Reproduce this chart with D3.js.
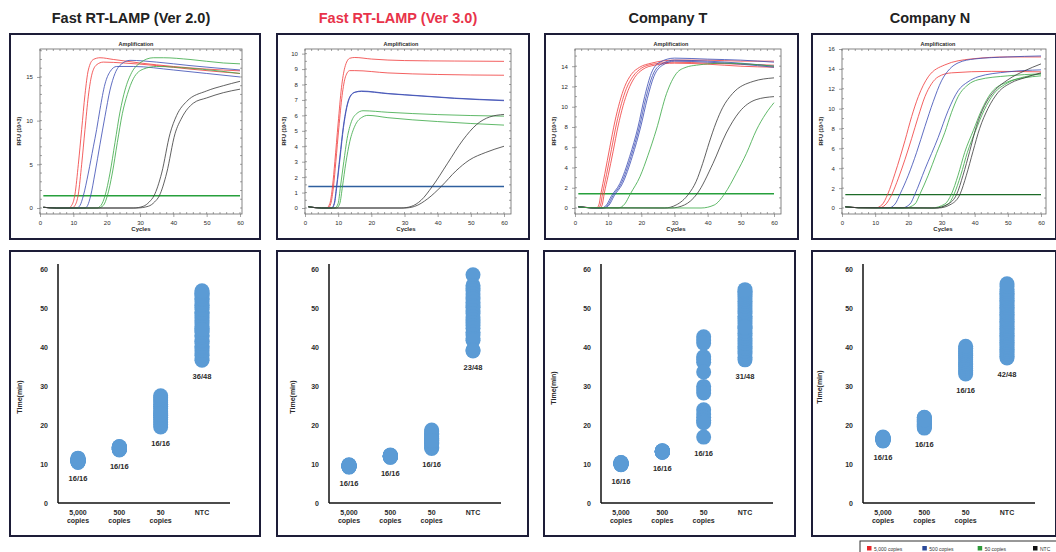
<!DOCTYPE html>
<html><head><meta charset="utf-8">
<script src="https://cdn.jsdelivr.net/npm/d3@7"></script>
<style>body{margin:0;background:#fff} svg{display:block;font-family:"Liberation Sans",Arial,sans-serif}</style>
</head><body><svg id="c" width="1056" height="552"></svg>
<script>
// ---------- DATA ----------
const panelTitles = ["Fast RT-LAMP (Ver 2.0)", "Fast RT-LAMP (Ver 3.0)", "Company T", "Company N"];
const cycleTicks = [0, 10, 20, 30, 40, 50, 60];
const rfuTicksV2 = [0, 5, 10, 15];
const rfuTicksV3 = [0, 1, 2, 3, 4, 5, 6, 7, 8, 9, 10];
const rfuTicksT = [0, 2, 4, 6, 8, 10, 12, 14];
const rfuTicksN = [0, 2, 4, 6, 8, 10, 12, 14, 16];
const rfuMax = [18.2, 10.3, 15.7, 16.0];
const thresholds = [1.4, 1.39, 1.4, 1.35];
const seriesNames = ["5,000 copies", "500 copies", "50 copies", "NTC"];

// amplification curves: [cycle, RFU(10^3)]
const ampV2 = [
  {s:0, p:[[1,0.08],[5,0],[8.5,0],[9.5,0.3],[10.5,1.6],[11.5,5],[12.5,9],[13.5,13],[14.5,15.8],[16,17],[18,17.2],[22,17],[30,16.6],[40,16.2],[50,15.9],[60,15.7]]},
  {s:0, p:[[1,0.08],[5,0],[9.5,0],[10.5,0.3],[11.5,1.6],[12.5,5],[13.5,9],[14.5,12.8],[15.5,15.2],[17,16.4],[19,16.7],[25,16.6],[35,16.3],[45,15.9],[60,15.4]]},
  {s:1, p:[[1,0.08],[5,0],[11,0],[12,0.3],[13,1.4],[14.5,4],[16,7],[17,9],[18,11.3],[19.5,14.2],[21,15.6],[23,16.2],[28,16.2],[40,15.8],[50,15.4],[60,15.0]]},
  {s:1, p:[[1,0.08],[5,0],[13.5,0],[14.3,0.3],[15.2,1.4],[16.5,4],[18,7.3],[19.5,10.5],[21,13.5],[22.5,15.4],[24.5,16.5],[27,16.9],[35,16.7],[45,16.3],[60,15.8]]},
  {s:2, p:[[1,0.08],[5,0],[17,0],[18.3,0.3],[19.5,1.4],[21,4],[22.5,7.5],[24,11],[25.5,13.5],[27.5,15.5],[30,16.6],[34,17.2],[37,17.2],[45,17],[55,16.6],[60,16.5]]},
  {s:2, p:[[1,0.08],[5,0],[17.5,0],[19,0.3],[20.2,1.4],[21.7,4],[23.2,7.5],[24.7,10.8],[26.2,13],[28,14.8],[31,15.9],[35,16.2],[45,16],[60,15.4]]},
  {s:3, p:[[1,0.08],[5,0],[28,0],[31,0.2],[32.8,0.7],[34.2,1.4],[36.5,4],[39,8.5],[41,10.6],[44,12.2],[50,13.4],[55,14.0],[60,14.5]]},
  {s:3, p:[[1,0.08],[5,0],[29,0],[32.5,0.2],[34.4,0.7],[35.8,1.4],[38,4],[40.5,8.5],[42.5,10.3],[46,12],[50,12.6],[55,13.2],[60,13.6]]}
];
const ampV3 = [
  {s:0, p:[[1,0.08],[5,0],[6.5,0],[7.5,0.3],[8.3,1.4],[9,3],[10,5.5],[11,7.8],[12,9.1],[13.5,9.7],[15,9.75],[20,9.65],[30,9.55],[45,9.52],[60,9.5]]},
  {s:0, p:[[1,0.08],[5,0],[7,0],[7.8,0.3],[8.6,1.4],[9.3,3],[10.2,5.2],[11.2,7.3],[12.2,8.5],[13.5,8.9],[15,8.9],[25,8.75],[40,8.65],[60,8.6]]},
  {s:1, p:[[1,0.08],[5,0],[8,0],[8.8,0.3],[9.5,1.4],[10.5,3.3],[11.5,5.2],[12.5,6.5],[13.5,7.2],[15,7.5],[17,7.55],[25,7.4],[35,7.25],[45,7.1],[60,6.95]]},
  {s:1, p:[[1,0.08],[5,0],[8.1,0],[8.9,0.3],[9.6,1.4],[10.6,3.3],[11.6,5.2],[12.6,6.5],[13.6,7.2],[15.1,7.5],[17,7.58],[25,7.42],[35,7.27],[45,7.12],[60,6.98]]},
  {s:2, p:[[1,0.08],[5,0],[9,0],[10,0.3],[10.7,1.4],[11.7,3],[12.7,4.5],[14,5.6],[15.5,6.1],[17.5,6.3],[25,6.2],[40,6.05],[60,5.95]]},
  {s:2, p:[[1,0.08],[5,0],[9.5,0],[10.5,0.3],[11.3,1.4],[12.3,2.9],[13.5,4.3],[15,5.3],[17,5.85],[19,6.0],[25,5.85],[40,5.6],[60,5.37]]},
  {s:3, p:[[1,0.08],[5,0],[29,0],[32,0.1],[35,0.5],[38.4,1.4],[43,2.9],[47.6,4.4],[51.7,5.4],[55.7,5.9],[60,6.06]]},
  {s:3, p:[[1,0.08],[5,0],[30,0],[33,0.1],[37,0.6],[41.1,1.4],[45.5,2.4],[49.5,3.1],[54.5,3.6],[60,4.0]]}
];
const ampT = [
  {s:0, p:[[1,0.12],[5,0.02],[6.5,0],[7.2,0.3],[7.8,1.4],[9,3.4],[10.5,6],[12,8.5],[13.5,10.5],[15,12],[17,13.2],[19.5,13.9],[23,14.3],[30,14.6],[40,14.6],[50,14.5],[60,14.5]]},
  {s:0, p:[[1,0.12],[5,0.02],[7,0],[7.7,0.3],[8.3,1.4],[9.5,3.3],[11,5.8],[12.5,8.3],[14,10.3],[15.5,11.8],[17.5,13],[20,13.8],[23.5,14.2],[30,14.4],[40,14.3],[50,14.2],[60,14.1]]},
  {s:0, p:[[1,0.12],[5,0.02],[7.5,0],[8.2,0.3],[8.8,1.4],[10,3.2],[11.5,5.6],[13,8.1],[14.5,10.1],[16,11.6],[18,12.9],[20.5,13.7],[24,14.1],[30,14.3],[40,14.2],[50,14.0],[60,13.9]]},
  {s:1, p:[[1,0.12],[5,0.02],[8,0],[9.5,0.3],[11,1.2],[13.5,2.4],[16.5,5.1],[19,8],[21,11],[23,13.3],[25.6,14.4],[30,14.8],[40,14.7],[50,14.6],[60,14.4]]},
  {s:1, p:[[1,0.12],[5,0.02],[8.4,0],[9.9,0.3],[11.4,1.2],[13.9,2.4],[16.9,5.1],[19.4,8],[21.4,10.9],[23.4,13.1],[26,14.2],[30,14.6],[40,14.5],[50,14.3],[60,14.0]]},
  {s:1, p:[[1,0.12],[5,0.02],[8.8,0],[10.3,0.3],[11.8,1.2],[14.3,2.4],[17.3,5.1],[19.8,8],[21.8,10.8],[23.8,13],[26.4,14.1],[30,14.5],[40,14.4],[50,14.2],[60,13.9]]},
  {s:2, p:[[1,0.12],[5,0.02],[13,0],[15,0.4],[16.7,1.4],[19.6,3.1],[22,5.2],[24.5,7.7],[27.6,11.3],[30.6,13.3],[33.5,13.9],[36.6,14.1],[45,14.3],[60,14.0]]},
  {s:3, p:[[1,0.12],[5,0.02],[27,0],[30.5,0.3],[34.3,1.4],[36.5,2.6],[38.5,4.4],[40.5,6.5],[42.5,8.4],[44.5,9.9],[47.5,11.3],[53.7,12.5],[60,12.85]]},
  {s:3, p:[[1,0.12],[5,0.02],[29,0],[33,0.3],[36.8,1.4],[41.6,4.4],[45.6,7.4],[49.6,9.5],[54.6,10.7],[60,11.0]]},
  {s:2, p:[[1,0.12],[5,0.02],[38,0],[42,0.3],[45.1,1.4],[48.6,3.4],[51.7,5.4],[54.7,7.7],[57.5,9.3],[60,10.4]]}
];
const ampN = [
  {s:0, p:[[1,0.12],[5,0.03],[10,0],[12,0.3],[13.8,1.4],[16,3.5],[19,6.8],[21,9.2],[23,11.2],[26,13.2],[31,14.4],[39,15.0],[50,15.2],[60,15.2]]},
  {s:0, p:[[1,0.12],[5,0.03],[11,0],[13,0.3],[15,1.35],[17,3.0],[19,4.9],[21,7.0],[23,9.2],[25,11.2],[27,12.5],[29,13.2],[33,13.6],[45,13.75],[60,13.7]]},
  {s:1, p:[[1,0.12],[5,0.03],[14,0],[16,0.4],[17.5,1.4],[20,3.3],[22.5,5.6],[25,8.2],[27.5,10.7],[30,12.8],[32.5,14],[35,14.6],[40,15],[50,15.2],[60,15.3]]},
  {s:1, p:[[1,0.12],[5,0.03],[18,0],[20.5,0.4],[22,1.4],[25,3.9],[29,7.1],[32,9.8],[35,11.8],[38,12.7],[41,13.2],[50,13.7],[60,13.9]]},
  {s:2, p:[[1,0.12],[5,0.03],[19,0],[22,0.4],[23.5,1.4],[26,3.3],[28.5,5.5],[31,7.6],[33,9.6],[35,11.2],[38,12.4],[41,12.9],[50,13.3],[60,13.5]]},
  {s:2, p:[[1,0.12],[5,0.03],[27,0],[31,0.4],[33,1.4],[35,3.3],[37,5.6],[39.6,7.8],[42,9.8],[45,11.6],[50,12.7],[55,13.1],[60,13.3]]},
  {s:2, p:[[1,0.12],[5,0.03],[28,0],[32,0.4],[33.8,1.4],[35.8,3.3],[37.8,5.6],[40.3,7.8],[42.8,9.8],[45.8,11.5],[50,12.6],[55,13.2],[60,13.5]]},
  {s:3, p:[[1,0.12],[5,0.03],[28,0],[32,0.4],[34.6,1.4],[36.5,3.3],[38.5,5.7],[40.5,8.2],[43,10.3],[46,11.8],[50,12.9],[55,13.8],[60,14.5]]},
  {s:3, p:[[1,0.12],[5,0.03],[29,0],[33,0.4],[35.6,1.4],[37.5,3.3],[39.5,5.7],[41.5,8],[44,10],[47,11.6],[51,12.6],[55,13.1],[60,13.6]]}
];

// time-to-positive dot plots (minutes)
const categories = ["5,000|copies", "500|copies", "50|copies", "NTC"];
const timeTicks = [0, 10, 20, 30, 40, 50, 60];
const v2_5000 = [10.4,10.5,10.6,10.7,10.8,10.9,11.0,11.0,11.1,11.2,11.3,11.4,11.5,10.6,10.9,11.2];
const v2_500  = [13.6,13.7,13.8,13.9,14.0,14.1,14.2,14.3,14.4,13.8,14.0,14.2,13.9,14.1,14.3,14.5];
const v2_50   = [19.5,20.1,20.8,21.4,22.0,22.5,23.1,23.6,24.2,24.8,25.3,25.9,26.4,27.0,27.5,22.8];
const v2_NTC  = [36.6,37.0,37.9,38.3,39.1,39.8,40.2,40.9,41.5,41.8,42.6,43.0,43.7,44.1,44.8,45.3,45.9,46.4,46.8,47.5,48.0,48.6,48.9,49.6,50.1,50.7,51.0,51.6,52.2,52.5,53.1,53.4,53.8,54.1,54.4,44.5];
const v3_5000 = [9.2,9.3,9.4,9.4,9.5,9.5,9.6,9.6,9.7,9.8,9.5,9.4,9.6,9.3,9.7,9.5];
const v3_500  = [11.7,11.8,11.9,12.0,12.0,12.1,12.2,12.3,11.9,12.0,12.1,12.2,11.8,12.0,12.1,12.0];
const v3_50   = [14.0,14.3,14.6,15.0,15.3,15.6,15.9,16.2,16.6,16.9,17.2,17.6,17.9,18.3,18.7,16.0];
const v3_NTC  = [58.5,55.8,55.0,54.4,53.6,52.8,52.3,51.5,50.6,50.2,49.3,48.6,47.7,47.0,46.3,45.5,44.8,43.8,43.1,42.2,41.7,39.2,39.0];
const t_5000  = [9.8,9.9,10.0,10.0,10.1,10.1,10.2,10.3,10.4,10.0,10.2,9.9,10.1,10.3,10.0,10.2];
const t_500   = [13.0,13.1,13.2,13.2,13.3,13.4,13.1,13.2,13.3,13.0,13.4,13.2,13.1,13.3,13.2,13.2];
const t_50    = [42.6,41.8,41.0,37.5,36.8,36.1,33.6,29.9,29.0,28.2,23.9,22.8,22.0,21.2,20.6,16.9];
const t_NTC   = [36.7,37.4,38.3,39.0,39.6,40.1,40.9,41.6,42.2,42.9,43.5,44.1,44.8,45.4,46.0,46.7,47.3,47.9,48.6,49.2,49.8,50.5,51.1,51.7,52.3,52.9,53.4,53.9,54.3,54.7,45.1];
const n_5000  = [15.9,16.0,16.1,16.2,16.3,16.4,16.5,16.6,16.7,16.8,16.9,16.2,16.4,16.6,16.0,16.5];
const n_500   = [19.2,19.5,19.8,20.0,20.3,20.6,20.8,21.1,21.4,21.6,21.9,22.0,20.1,20.9,19.6,21.3];
const n_50    = [33.1,33.6,34.0,34.5,35.0,35.5,35.9,36.4,36.9,37.3,37.8,38.3,38.8,39.2,39.7,40.2];
const n_NTC   = [37.2,37.6,38.1,38.5,39.0,39.4,39.9,40.3,40.8,41.2,41.7,42.1,42.6,43.0,43.5,43.9,44.4,44.8,45.3,45.7,46.2,46.6,47.1,47.5,48.0,48.4,48.9,49.3,49.8,50.2,50.7,51.1,51.6,52.0,52.5,52.9,53.4,53.8,54.3,54.8,55.5,56.2];
const countLabels = [["16/16","16/16","16/16","36/48"],["16/16","16/16","16/16","23/48"],["16/16","16/16","16/16","31/48"],["16/16","16/16","16/16","42/48"]];

// ---------- STYLE / LAYOUT ----------
const titleColors = ["#222", "#e8334a", "#222", "#222"];
const seriesColors = ["#f03c3c", "#3a4bb3", "#3aa845", "#3c3c3c"];
const thresholdColors = ["#27a03c", "#2f5f9e", "#27a03c", "#1d6b28"];
const dotColor = "#5b9bd5";
const textCol = "#2a2a2a";
const svg = d3.select("#c");

const ampData = [ampV2, ampV3, ampT, ampN];
const rfuTicks = [rfuTicksV2, rfuTicksV3, rfuTicksT, rfuTicksN];
const rfuMinor = [1, 0.5, 1, 1];
const titleX = [131, 398, 668, 930];
const topBox = [[10, 250], [277, 252], [545, 253], [812, 244]];
const plotL = [40, 305, 575, 842], plotX60 = [240, 504, 774, 1041], plotR = [242, 511, 781, 1046];
const PT = 49, PB = 214, Y0 = 208;

ampData.forEach((curves, i) => {
  svg.append("text").attr("x", titleX[i]).attr("y", 23).attr("text-anchor", "middle")
    .attr("font-size", 14.5).attr("font-weight", "bold").attr("fill", titleColors[i]).text(panelTitles[i]);
  svg.append("rect").attr("x", topBox[i][0]).attr("y", 34).attr("width", topBox[i][1]).attr("height", 205)
    .attr("fill", "none").attr("stroke", "#1d1d38").attr("stroke-width", 2);
  const L = plotL[i];
  const x = d3.scaleLinear().domain([0, 60]).range([L, plotX60[i]]);
  const y = d3.scaleLinear().domain([0, rfuMax[i]]).range([Y0, PT]);
  const g = svg.append("g");
  g.append("rect").attr("x", L).attr("y", PT).attr("width", plotR[i] - L).attr("height", PB - PT)
    .attr("fill", "none").attr("stroke", "#666").attr("stroke-width", 0.8);
  d3.range(0, 61, 2).forEach(v => {
    g.append("line").attr("x1", x(v)).attr("x2", x(v)).attr("y1", PB).attr("y2", PB - 2).attr("stroke", "#666").attr("stroke-width", 0.6);
    g.append("line").attr("x1", x(v)).attr("x2", x(v)).attr("y1", PT).attr("y2", PT + 2).attr("stroke", "#666").attr("stroke-width", 0.6);
  });
  d3.range(0, rfuMax[i], rfuMinor[i]).forEach(v => {
    g.append("line").attr("x1", L).attr("x2", L + 2).attr("y1", y(v)).attr("y2", y(v)).attr("stroke", "#666").attr("stroke-width", 0.6);
    g.append("line").attr("x1", plotR[i]).attr("x2", plotR[i] - 2).attr("y1", y(v)).attr("y2", y(v)).attr("stroke", "#666").attr("stroke-width", 0.6);
  });
  const xa = g.append("g").attr("transform", `translate(0,${PB})`)
    .call(d3.axisBottom(x).tickValues(cycleTicks).tickSize(3).tickFormat(d3.format("d")));
  const ya = g.append("g").attr("transform", `translate(${L},0)`)
    .call(d3.axisLeft(y).tickValues(rfuTicks[i]).tickSize(3).tickFormat(d3.format("d")));
  [xa, ya].forEach(a => {
    a.select(".domain").remove();
    a.selectAll("line").attr("stroke", "#666").attr("stroke-width", 0.6);
    a.selectAll("text").attr("font-size", 6).attr("fill", textCol).attr("font-family", "Liberation Sans, Arial");
  });
  xa.selectAll("text").attr("dy", "0.9em");
  ya.selectAll("text").attr("dx", "-0.2em");
  g.append("text").attr("x", L + 96).attr("y", 46).attr("text-anchor", "middle").attr("font-size", 5.5)
    .attr("font-weight", "bold").attr("fill", textCol).text("Amplification");
  g.append("text").attr("x", L + 101).attr("y", 231).attr("text-anchor", "middle").attr("font-size", 6)
    .attr("font-weight", "bold").attr("fill", textCol).text("Cycles");
  g.append("text").attr("transform", `translate(${L - 19},131) rotate(-90)`).attr("text-anchor", "middle")
    .attr("font-size", 5.5).attr("font-weight", "bold").attr("fill", textCol).text("RFU (10^3)");
  const clipId = "clip" + i;
  svg.append("clipPath").attr("id", clipId).append("rect").attr("x", L).attr("y", PT).attr("width", plotR[i] - L).attr("height", PB - PT);
  const cg = g.append("g").attr("clip-path", `url(#${clipId})`);
  const line = d3.line().x(d => x(d[0])).y(d => y(d[1])).curve(d3.curveMonotoneX);
  cg.append("path").attr("d", line([[1, thresholds[i]], [60, thresholds[i]]]))
    .attr("stroke", thresholdColors[i]).attr("stroke-width", 1.4).attr("fill", "none");
  curves.forEach(c => {
    cg.append("path").attr("d", line(c.p)).attr("fill", "none")
      .attr("stroke", seriesColors[c.s]).attr("stroke-width", 0.9).attr("stroke-opacity", 0.9);
  });
});

// ---------- bottom dot plots ----------
const dotData = [[v2_5000, v2_500, v2_50, v2_NTC], [v3_5000, v3_500, v3_50, v3_NTC], [t_5000, t_500, t_50, t_NTC], [n_5000, n_500, n_50, n_NTC]];
const botBox = [[10, 250], [277, 251], [544, 251], [812, 244]];
const axisX = [58, 329, 601, 863];
const timeLabelDx = [36, 34, 45, 41];
const timeLabelY = [397, 397, 388, 387];
const BY0 = 503, BY60 = 269;

dotData.forEach((groups, i) => {
  svg.append("rect").attr("x", botBox[i][0]).attr("y", 251).attr("width", botBox[i][1]).attr("height", 285)
    .attr("fill", "none").attr("stroke", "#1d1d38").attr("stroke-width", 2);
  const A = axisX[i];
  const x = d3.scalePoint().domain(categories).range([A + 20, A + 144]);
  const y = d3.scaleLinear().domain([0, 60]).range([BY0, BY60]);
  const g = svg.append("g");
  const ya = g.append("g").attr("transform", `translate(${A},0)`)
    .call(d3.axisLeft(y).tickValues(timeTicks).tickSize(0).tickPadding(10));
  ya.select(".domain").remove();
  ya.selectAll("text").attr("font-size", 7).attr("font-weight", "bold").attr("fill", textCol).attr("font-family", "Liberation Sans, Arial");
  g.append("line").attr("x1", A).attr("x2", A).attr("y1", 264).attr("y2", BY0).attr("stroke", "#111").attr("stroke-width", 1.5);
  g.append("line").attr("x1", A).attr("x2", A + 172).attr("y1", BY0).attr("y2", BY0).attr("stroke", "#111").attr("stroke-width", 1.5);
  g.append("text").attr("transform", `translate(${A - timeLabelDx[i]},${timeLabelY[i]}) rotate(-90)`)
    .attr("text-anchor", "middle").attr("font-size", 7).attr("font-weight", "bold").attr("fill", textCol).text("Time(min)");
  categories.forEach((c, k) => {
    const parts = c.split("|");
    const t = g.append("text").attr("x", x(c)).attr("y", 515).attr("text-anchor", "middle")
      .attr("font-size", 7).attr("font-weight", "bold").attr("fill", textCol);
    parts.forEach((p, j) => t.append("tspan").attr("x", x(c)).attr("dy", j ? 7.5 : 0).text(p));
    const vals = groups[k];
    g.selectAll(null).data(vals).enter().append("circle")
      .attr("cx", x(c)).attr("cy", d => y(d)).attr("r", 7.5).attr("fill", dotColor);
    g.append("text").attr("x", x(c)).attr("y", y(d3.min(vals)) + 19).attr("text-anchor", "middle")
      .attr("font-size", 7.5).attr("font-weight", "bold").attr("fill", textCol).text(countLabels[i][k]);
  });
});

// ---------- legend ----------
const lg = svg.append("g");
lg.append("rect").attr("x", 860).attr("y", 541).attr("width", 200).attr("height", 14)
  .attr("fill", "#fff").attr("stroke", "#333").attr("stroke-width", 1);
const legX = d3.scalePoint().domain(seriesNames).range([867, 1033]);
seriesNames.forEach((n, k) => {
  lg.append("rect").attr("x", legX(n)).attr("y", 546).attr("width", 4.5).attr("height", 4.5).attr("fill", ["#e8262a", "#2b4a9a", "#2e9a3a", "#111"][k]);
  lg.append("text").attr("x", legX(n) + 7).attr("y", 550.5).attr("font-size", 5).attr("fill", "#333").text(n);
});
</script></body></html>
